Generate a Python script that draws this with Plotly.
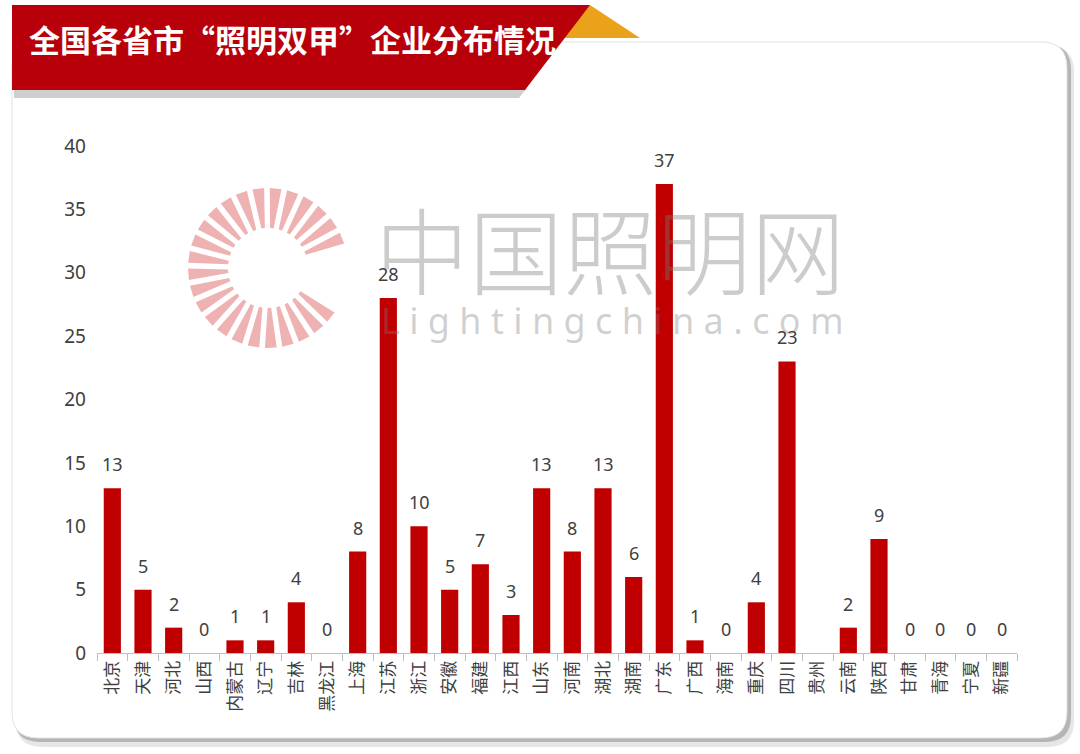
import math
import plotly.graph_objects as go

provinces = ["北京", "天津", "河北", "山西", "内蒙古", "辽宁", "吉林", "黑龙江", "上海", "江苏",
             "浙江", "安徽", "福建", "江西", "山东", "河南", "湖北", "湖南", "广东", "广西",
             "海南", "重庆", "四川", "贵州", "云南", "陕西", "甘肃", "青海", "宁夏", "新疆"]
counts = [13, 5, 2, 0, 1, 1, 4, 0, 8, 28,
          10, 5, 7, 3, 13, 8, 13, 6, 37, 1,
          0, 4, 23, None, 2, 9, 0, 0, 0, 0]
y_ticks = [0, 5, 10, 15, 20, 25, 30, 35, 40]
title_text = "全国各省市“照明双甲”企业分布情况"

W, H = 1080, 754
L, R, T, B = 97, 1017, 146, 653
PW, PH = R - L, B - T


def px(x):
    return (x - L) / PW


def py(y):
    return (B - y) / PH


def poly(points):
    return "M " + " L ".join(f"{px(x):.5f},{py(y):.5f}" for x, y in points) + " Z"


def rrect(x0, y0, x1, y1, r):
    p = []
    p.append(f"M {px(x0 + r):.5f},{py(y0):.5f}")
    p.append(f"L {px(x1 - r):.5f},{py(y0):.5f}")
    p.append(f"Q {px(x1):.5f},{py(y0):.5f} {px(x1):.5f},{py(y0 + r):.5f}")
    p.append(f"L {px(x1):.5f},{py(y1 - r):.5f}")
    p.append(f"Q {px(x1):.5f},{py(y1):.5f} {px(x1 - r):.5f},{py(y1):.5f}")
    p.append(f"L {px(x0 + r):.5f},{py(y1):.5f}")
    p.append(f"Q {px(x0):.5f},{py(y1):.5f} {px(x0):.5f},{py(y1 - r):.5f}")
    p.append(f"L {px(x0):.5f},{py(y0 + r):.5f}")
    p.append(f"Q {px(x0):.5f},{py(y0):.5f} {px(x0 + r):.5f},{py(y0):.5f}")
    p.append("Z")
    return " ".join(p)


shapes = []
# card shadow + card
shapes.append(dict(type="path", path=rrect(16, 46, 1074, 747, 26), xref="paper", yref="paper",
                   fillcolor="#e6e6e6", line=dict(width=0), layer="below"))
shapes.append(dict(type="path", path=rrect(14, 44, 1071, 742, 26), xref="paper", yref="paper",
                   fillcolor="#b5b5b5", line=dict(width=0), layer="below"))
shapes.append(dict(type="path", path=rrect(12, 42, 1067, 738, 26), xref="paper", yref="paper",
                   fillcolor="white", line=dict(color="#e2e2e2", width=1), layer="below"))

# logo watermark rays
cx, cy = 268, 268
a = 22
while a <= 322:
    w = 4.2
    r1, r2 = 40, 80
    pts = []
    for rr, aa in [(r1, a - w * 0.6), (r2, a - w), (r2, a + w), (r1, a + w * 0.6)]:
        pts.append((cx + rr * math.cos(math.radians(aa)), cy - rr * math.sin(math.radians(aa))))
    shapes.append(dict(type="path", path=poly(pts), xref="paper", yref="paper",
                       fillcolor="#efb2b2", line=dict(width=0), layer="below"))
    a += 12.5

# banner shadow, orange fold, red banner
shapes.append(dict(type="path", path=poly([(14, 88), (527, 88), (519, 98), (14, 98)]),
                   xref="paper", yref="paper", fillcolor="#cfcfcf", line=dict(width=0), layer="above"))
shapes.append(dict(type="path", path=poly([(590, 5), (640, 38), (562, 38)]),
                   xref="paper", yref="paper", fillcolor="#eaa21a", line=dict(width=0), layer="above"))
shapes.append(dict(type="path", path=poly([(12, 5), (590, 5), (525, 90), (12, 90)]),
                   xref="paper", yref="paper", fillcolor="#b8000a", line=dict(width=0), layer="above"))

annotations = []
annotations.append(dict(text=title_text, x=px(27), y=py(38), xref="paper", yref="paper",
                        xanchor="left", yanchor="middle", showarrow=False,
                        font=dict(family="Noto Sans CJK SC", size=31, color="white", weight="bold")))
annotations.append(dict(text="中国照明网", x=px(610), y=py(247), xref="paper", yref="paper",
                        xanchor="center", yanchor="middle", showarrow=False,
                        font=dict(family="Noto Sans CJK SC", size=94, color="rgba(120,120,120,0.38)",
                                  weight=300)))
annotations.append(dict(text="L i g h t i n g c h i n a . c o m", x=px(612), y=py(320), xref="paper",
                        yref="paper", xanchor="center", yanchor="middle", showarrow=False,
                        font=dict(family="Noto Sans", size=36, color="rgba(120,120,120,0.34)")))

for p, v in zip(provinces, counts):
    if v is None:
        continue
    annotations.append(dict(text=str(v), x=p, y=v, xref="x", yref="y", yanchor="bottom",
                            showarrow=False, yshift=10,
                            font=dict(family="Noto Sans", size=18, color="#404040")))

fig = go.Figure()
fig.add_trace(go.Bar(x=provinces, y=counts, marker=dict(color="#c00000", line=dict(width=0)),
                     hoverinfo="x+y"))

fig.update_layout(
    width=W, height=H,
    margin=dict(l=L, r=W - R, t=T, b=H - B, pad=0),
    paper_bgcolor="white", plot_bgcolor="rgba(0,0,0,0)",
    bargap=0.44, showlegend=False,
    shapes=shapes, annotations=annotations,
    font=dict(family="Noto Sans CJK SC", color="#404040"),
)
fig.update_xaxes(type="category", categoryorder="array", categoryarray=provinces,
                 showline=True, linecolor="#bfbfbf", linewidth=1,
                 ticks="outside", tickson="boundaries", ticklen=7, tickcolor="#bfbfbf",
                 tickangle=-90, tickfont=dict(family="Noto Sans CJK SC", size=17, color="#404040"),
                 showgrid=False, zeroline=False)
fig.update_yaxes(range=[0, 40], tickvals=y_ticks, showgrid=False, zeroline=False, showline=False,
                 ticks="", ticklabelstandoff=10,
                 tickfont=dict(family="Noto Sans", size=19, color="#404040"))

fig.write_html("out.html")
